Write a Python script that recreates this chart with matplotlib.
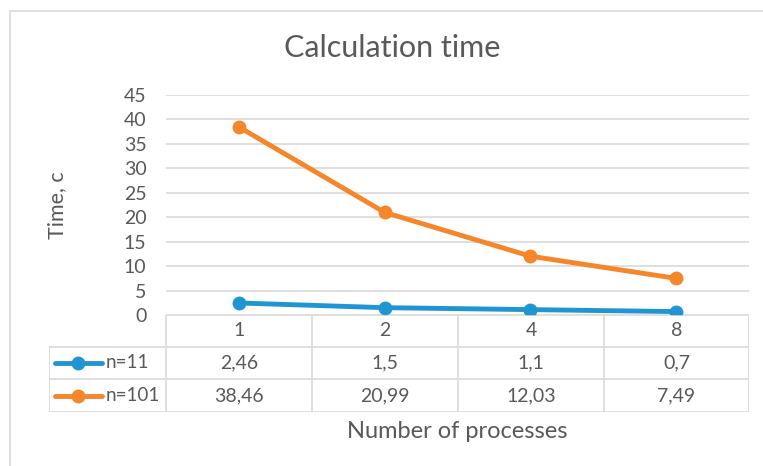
import matplotlib.pyplot as plt
from matplotlib.lines import Line2D
from matplotlib.patches import Rectangle

processes = ["1", "2", "4", "8"]
series_names = ["n=11", "n=101"]
time_n11 = [2.46, 1.5, 1.1, 0.7]
time_n101 = [38.46, 20.99, 12.03, 7.49]
y_ticks = [0, 5, 10, 15, 20, 25, 30, 35, 40, 45]

BLUE = "#1f96d3"
ORANGE = "#f5862a"
TEXT = "#595959"
GRID = "#d9d9d9"

W, H = 763, 466


def fig_box(x0, y0, x1, y1):
    # pixel box (top-left origin) -> figure fraction [left, bottom, width, height]
    return [x0 / W, 1 - y1 / H, (x1 - x0) / W, (y1 - y0) / H]


def fmt(v):
    return ("%g" % v).replace(".", ",")


def main():
    plt.rcParams["font.family"] = ["Lato", "DejaVu Sans"]
    fig = plt.figure(figsize=(W / 100, H / 100), dpi=100)
    fig.patch.set_facecolor("white")

    # chart frame
    fig.patches.append(Rectangle((10 / W, -0.1), 1.2, 1 - 11 / H + 0.1,
                                 transform=fig.transFigure, fill=False,
                                 edgecolor=GRID, linewidth=1.2))

    ax = fig.add_axes(fig_box(166, 95, 749, 315))
    x = list(range(len(processes)))
    ax.plot(x, time_n11, color=BLUE, linewidth=3.5, marker="o",
            markersize=9, solid_capstyle="round", zorder=3)
    ax.plot(x, time_n101, color=ORANGE, linewidth=3.5, marker="o",
            markersize=9, solid_capstyle="round", zorder=3)
    ax.set_xlim(-0.5, len(processes) - 0.5)
    ax.set_ylim(0, 45)
    ax.set_yticks(y_ticks)
    ax.set_yticklabels([str(t) for t in y_ticks])
    ax.set_xticks([])
    ax.grid(axis="y", color=GRID, linewidth=1.2)
    ax.set_axisbelow(True)
    for s in ax.spines.values():
        s.set_visible(False)
    ax.tick_params(axis="y", length=0, pad=14, labelsize=14, labelcolor=TEXT)

    fig.text(392 / W, 1 - 48 / H, "Calculation time", ha="center",
             va="center", fontsize=22, color=TEXT)
    fig.text(57 / W, 1 - 205 / H, "Time, c", ha="center", va="center",
             rotation=90, fontsize=15.5, color=TEXT)
    fig.text(457 / W, 1 - 432 / H, "Number of processes", ha="center",
             va="center", fontsize=17, color=TEXT)

    # data table under the plot
    tx0, tx1 = 49, 749
    col_x = [166, 312, 458, 604, 749]
    row_y = [315, 347, 379, 412]
    tab = fig.add_axes(fig_box(tx0, 315, tx1, 412))
    tab.set_xlim(tx0, tx1)
    tab.set_ylim(412, 315)
    tab.axis("off")
    lw = 1.2
    tab.plot([col_x[0], col_x[-1]], [row_y[0], row_y[0]], color=GRID, lw=lw)
    for yy in row_y[1:]:
        tab.plot([tx0, tx1], [yy, yy], color=GRID, lw=lw)
    tab.plot([tx0, tx0], [row_y[1], row_y[-1]], color=GRID, lw=lw)
    for xx in col_x:
        tab.plot([xx, xx], [row_y[0], row_y[-1]], color=GRID, lw=lw)

    for i, label in enumerate(processes):
        cx = (col_x[i] + col_x[i + 1]) / 2
        tab.text(cx, (row_y[0] + row_y[1]) / 2, label, ha="center",
                 va="center", fontsize=14, color=TEXT)
        for r, vals in enumerate([time_n11, time_n101]):
            tab.text(cx, (row_y[r + 1] + row_y[r + 2]) / 2, fmt(vals[i]),
                     ha="center", va="center", fontsize=14, color=TEXT)

    for r, (name, c) in enumerate(zip(series_names, [BLUE, ORANGE])):
        cy = (row_y[r + 1] + row_y[r + 2]) / 2
        tab.add_line(Line2D([55, 102], [cy, cy], color=c, lw=3.5,
                            solid_capstyle="round"))
        tab.plot([78], [cy], marker="o", markersize=9, color=c)
        tab.text(106, cy, name, ha="left", va="center", fontsize=13.5,
                 color=TEXT)

    fig.savefig("out.png", dpi=100)


if __name__ == "__main__":
    main()
